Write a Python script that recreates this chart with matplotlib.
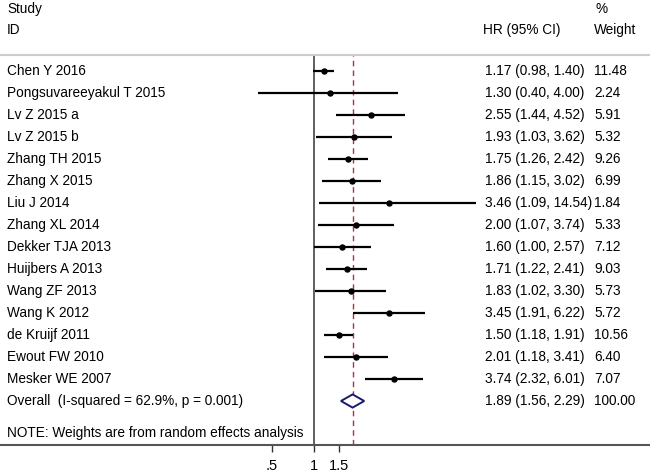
import matplotlib
matplotlib.use("Agg")
import matplotlib.pyplot as plt
import matplotlib.transforms as mtransforms
import math

plt.rcParams['font.family'] = ['Liberation Sans', 'DejaVu Sans']

# study data
studies = ["Chen Y 2016", "Pongsuvareeyakul T 2015", "Lv Z 2015 a", "Lv Z 2015 b",
           "Zhang TH 2015", "Zhang X 2015", "Liu J 2014", "Zhang XL 2014",
           "Dekker TJA 2013", "Huijbers A 2013", "Wang ZF 2013", "Wang K 2012",
           "de Kruijf 2011", "Ewout FW 2010", "Mesker WE 2007"]
hr = [1.17, 1.30, 2.55, 1.93, 1.75, 1.86, 3.46, 2.00, 1.60, 1.71, 1.83, 3.45, 1.50, 2.01, 3.74]
lo = [0.98, 0.40, 1.44, 1.03, 1.26, 1.15, 1.09, 1.07, 1.00, 1.22, 1.02, 1.91, 1.18, 1.18, 2.32]
hi = [1.40, 4.00, 4.52, 3.62, 2.42, 3.02, 14.54, 3.74, 2.57, 2.41, 3.30, 6.22, 1.91, 3.41, 6.01]
weights = ["11.48", "2.24", "5.91", "5.32", "9.26", "6.99", "1.84", "5.33",
           "7.12", "9.03", "5.73", "5.72", "10.56", "6.40", "7.07"]
overall_hr, overall_lo, overall_hi = 1.89, 1.56, 2.29
overall_label = "Overall  (I-squared = 62.9%, p = 0.001)"
overall_weight = "100.00"
xticks = [0.5, 1, 1.5]
xticklabels = [".5", "1", "1.5"]

fs = 9.8
fig = plt.figure(figsize=(6.5, 4.75), dpi=100)
ax = fig.add_axes([0, 30 / 475, 1, 390 / 475])
ax.set_xscale("log")
# 1 sits at 314 px, 60.6 px per log unit
left = math.exp(-314 / 60.6)
right = math.exp((650 - 314) / 60.6)
ax.set_xlim(left, right)
ax.set_ylim(17, -16 / 22)

rows = list(range(len(studies)))
for i in rows:
    ax.plot([lo[i], hi[i]], [i, i], color="black", lw=1.6, solid_capstyle="butt", zorder=3)
    ax.plot(hr[i], i, "o", color="black", ms=3.6, zorder=4)

yo = len(studies)
ax.fill([overall_lo, overall_hr, overall_hi, overall_hr, overall_lo],
        [yo, yo - 0.3, yo, yo + 0.3, yo], facecolor="white", edgecolor="#1a1a6e", lw=1.4, zorder=4)

ax.axvline(1, color="#444444", lw=1.2, zorder=2)
ax.axvline(overall_hr, color="#b03040", lw=1.0, ls=(0, (4, 3)), zorder=1)

trans = mtransforms.blended_transform_factory(fig.transFigure, ax.transData)
for i in rows:
    ax.text(7 / 650, i, studies[i], transform=trans, fontsize=fs, va="center", ha="left")
    ax.text(485 / 650, i, f"{hr[i]:.2f} ({lo[i]:.2f}, {hi[i]:.2f})", transform=trans,
            fontsize=fs, va="center", ha="left")
    ax.text(594 / 650, i, weights[i], transform=trans, fontsize=fs, va="center", ha="left")
ax.text(7 / 650, yo, overall_label, transform=trans, fontsize=fs, va="center", ha="left")
ax.text(485 / 650, yo, f"{overall_hr:.2f} ({overall_lo:.2f}, {overall_hi:.2f})", transform=trans,
        fontsize=fs, va="center", ha="left")
ax.text(594 / 650, yo, overall_weight, transform=trans, fontsize=fs, va="center", ha="left")
ax.text(7 / 650, (433 - 71) / 22, "NOTE: Weights are from random effects analysis",
        transform=trans, fontsize=fs, va="center", ha="left")

# headers above the plot
ax.text(7 / 650, (9 - 71) / 22, "Study", transform=trans, fontsize=fs, va="center", clip_on=False)
ax.text(7 / 650, (30 - 71) / 22, "ID", transform=trans, fontsize=fs, va="center", clip_on=False)
ax.text(483 / 650, (30 - 71) / 22, "HR (95% CI)", transform=trans, fontsize=fs, va="center", clip_on=False)
ax.text(594 / 650, (30 - 71) / 22, "Weight", transform=trans, fontsize=fs, va="center", clip_on=False)
ax.text(595 / 650, (9 - 71) / 22, "%", transform=trans, fontsize=fs, va="center", clip_on=False)

for s in ["left", "right"]:
    ax.spines[s].set_visible(False)
ax.spines["top"].set_color("#cccccc")
ax.spines["top"].set_linewidth(1.5)
ax.spines["bottom"].set_color("#555555")
ax.spines["bottom"].set_linewidth(1.5)
ax.set_yticks([])
ax.minorticks_off()
ax.set_xticks(xticks)
ax.set_xticklabels(xticklabels, fontsize=10.5)
ax.tick_params(axis="x", length=5, width=1, color="#333333", pad=5)
ax.tick_params(axis="x", which="minor", length=0)

fig.savefig("out.png", dpi=100)
